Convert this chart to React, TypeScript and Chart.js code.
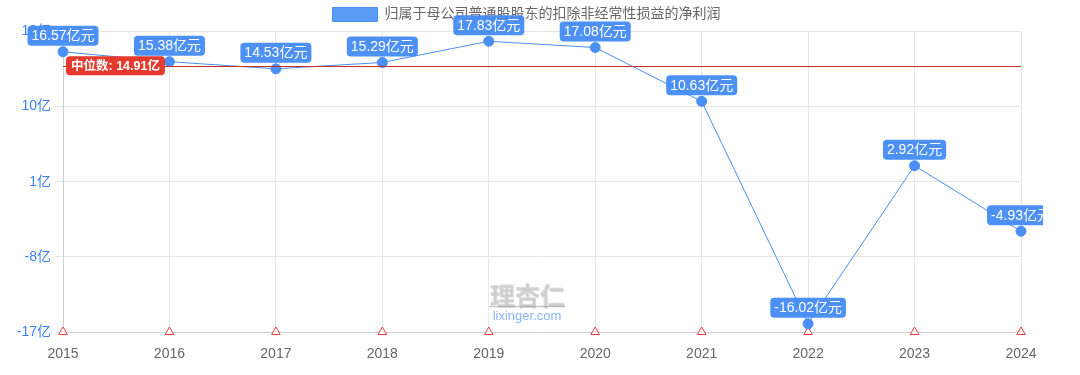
import React, { useEffect, useRef } from "react";
import { Chart, registerables } from "chart.js";

Chart.register(...registerables);

const years = ["2015", "2016", "2017", "2018", "2019", "2020", "2021", "2022", "2023", "2024"];
const profits = [16.57, 15.38, 14.53, 15.29, 17.83, 17.08, 10.63, -16.02, 2.92, -4.93];
const baseMarks = [-17, -17, -17, -17, -17, -17, -17, -17, -17, -17];
const medianValue = 14.91;
const yMin = -17;
const yMax = 19;
const yStep = 9;
const seriesLabel = "归属于母公司普通股股东的扣除非经常性损益的净利润";

const FONT = "'Liberation Sans', 'Noto Sans CJK SC', sans-serif";
const BLUE = "#4a8ff5";

function roundRect(ctx: CanvasRenderingContext2D, x: number, y: number, w: number, h: number, r: number) {
  ctx.beginPath();
  ctx.moveTo(x + r, y);
  ctx.lineTo(x + w - r, y);
  ctx.quadraticCurveTo(x + w, y, x + w, y + r);
  ctx.lineTo(x + w, y + h - r);
  ctx.quadraticCurveTo(x + w, y + h, x + w - r, y + h);
  ctx.lineTo(x + r, y + h);
  ctx.quadraticCurveTo(x, y + h, x, y + h - r);
  ctx.lineTo(x, y + r);
  ctx.quadraticCurveTo(x, y, x + r, y);
  ctx.closePath();
}

const watermarkPlugin = {
  id: "watermark",
  beforeDatasetsDraw(chart: any) {
    const ctx = chart.ctx as CanvasRenderingContext2D;
    const cx = 527;
    ctx.save();
    ctx.textAlign = "center";
    ctx.textBaseline = "middle";
    ctx.font = `bold 25px 'Noto Sans CJK SC', sans-serif`;
    ctx.fillStyle = "rgba(120,120,120,0.3)";
    ctx.fillText("理杏仁", cx + 1, 296);
    ctx.fillStyle = "rgba(205,205,205,0.7)";
    ctx.fillText("理杏仁", cx, 295);
    ctx.strokeStyle = "rgba(150,150,150,0.5)";
    ctx.lineWidth = 1.5;
    ctx.beginPath();
    ctx.moveTo(cx - 38, 306.5);
    ctx.lineTo(cx + 38, 306.5);
    ctx.stroke();
    ctx.font = `13px ${FONT}`;
    ctx.fillStyle = "rgba(59,130,246,0.6)";
    ctx.fillText("lixinger.com", cx, 316);
    ctx.restore();
  },
};

const medianPlugin = {
  id: "median",
  afterDatasetsDraw(chart: any) {
    const ctx = chart.ctx as CanvasRenderingContext2D;
    const y = chart.scales.y.getPixelForValue(medianValue);
    const { left, right } = chart.chartArea;
    ctx.save();
    ctx.strokeStyle = "#c9302c";
    ctx.lineWidth = 1;
    ctx.beginPath();
    ctx.moveTo(left, Math.round(y) + 0.5);
    ctx.lineTo(right, Math.round(y) + 0.5);
    ctx.stroke();
    const text = `中位数: ${medianValue}亿`;
    ctx.font = `bold 12.5px ${FONT}`;
    const w = ctx.measureText(text).width + 10;
    const h = 19;
    ctx.fillStyle = "#e53b2f";
    roundRect(ctx, left + 3, y - h / 2, w, h, 4);
    ctx.fill();
    ctx.fillStyle = "#fff";
    ctx.textAlign = "left";
    ctx.textBaseline = "middle";
    ctx.fillText(text, left + 8, y + 0.5);
    ctx.restore();
  },
};

const labelPlugin = {
  id: "valueLabels",
  afterDraw(chart: any) {
    const ctx = chart.ctx as CanvasRenderingContext2D;
    const meta = chart.getDatasetMeta(0);
    ctx.save();
    ctx.beginPath();
    ctx.rect(0, 0, 1043, chart.height);
    ctx.clip();
    ctx.font = `14px ${FONT}`;
    ctx.textAlign = "center";
    ctx.textBaseline = "middle";
    meta.data.forEach((pt: any, i: number) => {
      const text = `${profits[i].toFixed(2)}亿元`;
      const w = ctx.measureText(text).width + 8;
      const h = 20;
      const cx = pt.x;
      const cy = pt.y - 16;
      ctx.fillStyle = "rgba(64,137,245,0.93)";
      roundRect(ctx, cx - w / 2, cy - h / 2, w, h, 4);
      ctx.fill();
      ctx.fillStyle = "#fff";
      ctx.fillText(text, cx, cy + 0.5);
    });
    ctx.restore();
  },
};

export default function App() {
  const ref = useRef<HTMLCanvasElement | null>(null);
  useEffect(() => {
    if (!ref.current) return;
    const chart = new Chart(ref.current, {
      type: "line",
      data: {
        labels: years,
        datasets: [
          {
            label: seriesLabel,
            data: profits,
            borderColor: BLUE,
            backgroundColor: "#5b9cf8",
            borderWidth: 1,
            pointRadius: 5,
            pointBackgroundColor: BLUE,
            pointBorderColor: BLUE,
            tension: 0,
            clip: false as any,
          },
          {
            label: "base",
            data: baseMarks,
            showLine: false,
            pointStyle: "triangle",
            pointRadius: 5,
            pointBorderWidth: 1,
            pointBorderColor: "#ee3b3b",
            pointBackgroundColor: "#ffffff",
            clip: false as any,
          },
        ],
      },
      options: {
        animation: false,
        responsive: true,
        maintainAspectRatio: false,
        layout: { padding: { top: 0, right: 27, bottom: 0, left: 0 } },
        plugins: {
          legend: {
            display: true,
            labels: {
              filter: (item: any) => item.datasetIndex === 0,
              boxWidth: 45,
              boxHeight: 14,
              padding: 7.5,
              color: "#666",
              font: { size: 14, family: FONT },
            },
          },
          tooltip: { enabled: false },
        },
        scales: {
          x: {
            offset: false,
            grid: { color: "#e6e6e6", drawTicks: false },
            border: { color: "#d0d0d0" },
            ticks: { color: "#666", font: { size: 14, family: FONT }, padding: 14 },
            afterFit: (s: any) => {
              s.height = 43;
            },
          },
          y: {
            min: yMin,
            max: yMax,
            grid: { color: "#e6e6e6", drawTicks: true, tickLength: 8 },
            border: { color: "#d0d0d0" },
            ticks: {
              stepSize: yStep,
              color: "#3b7ff5",
              font: { size: 14, family: FONT },
              padding: 4,
              callback: (v: any) => `${v}亿`,
            },
            afterFit: (s: any) => {
              s.width = 63;
            },
          },
          yRight: {
            position: "right",
            display: true,
            grid: { display: false, drawTicks: false },
            border: { display: false },
            ticks: { display: false },
            afterFit: (s: any) => {
              s.width = 32;
            },
          },
        },
      },
      plugins: [watermarkPlugin, medianPlugin, labelPlugin],
    });
    return () => chart.destroy();
  }, []);
  return (
    <div style={{ position: "fixed", left: 0, top: 0, width: 1080, height: 375, background: "#fff" }}>
      <canvas ref={ref} />
    </div>
  );
}
